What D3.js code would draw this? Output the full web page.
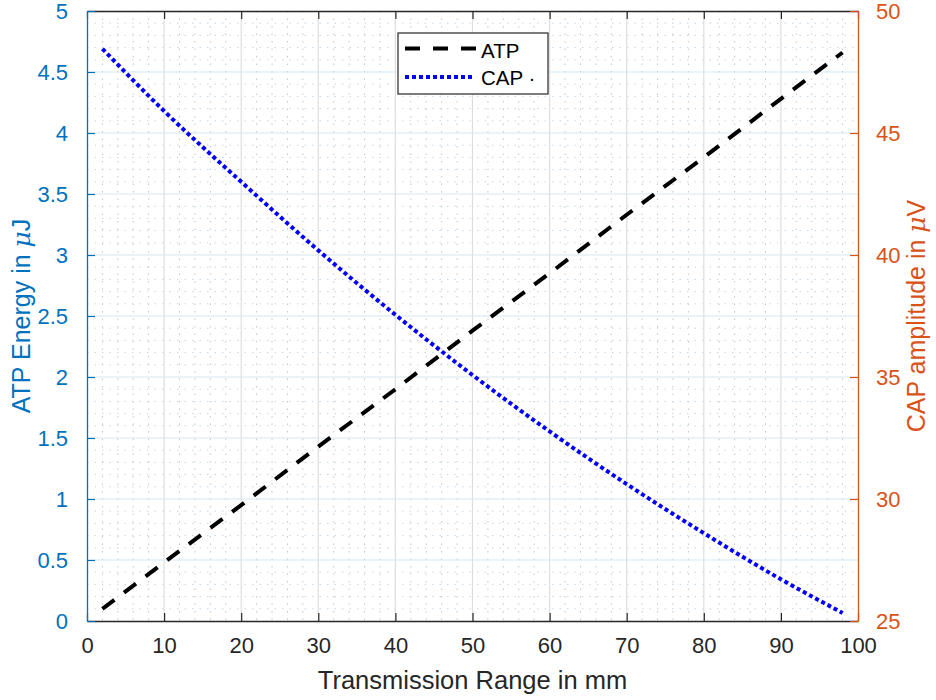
<!DOCTYPE html>
<html>
<head>
<meta charset="utf-8">
<script src="https://cdn.jsdelivr.net/npm/d3@7"></script>
<style>
  body { margin: 0; background: #fff; }
  svg { display: block; font-family: "Liberation Sans", Arial, sans-serif; }
</style>
</head>
<body>
<div id="chart"></div>
<script>
// data
var range = [2, 10, 20, 30, 40, 50, 60, 70, 80, 90, 98];
var atpEnergy = [0.1, 0.48, 0.95, 1.43, 1.9, 2.38, 2.85, 3.33, 3.8, 4.28, 4.66];
var capAmplitude = [48.45, 45.9, 43.0, 40.19, 37.55, 35.08, 32.77, 30.61, 28.6, 26.71, 25.33];

var xTicks = [0, 10, 20, 30, 40, 50, 60, 70, 80, 90, 100];
var yLeftTicks = [0, 0.5, 1, 1.5, 2, 2.5, 3, 3.5, 4, 4.5, 5];
var yRightTicks = [25, 30, 35, 40, 45, 50];

var blue = "#0072bd", orange = "#d95319", dark = "#262626";

var W = 936, H = 700;
var margin = {top: 11, right: 78, bottom: 79, left: 87},
    width = W - margin.left - margin.right,
    height = H - margin.top - margin.bottom;

var svg = d3.select("#chart").append("svg")
    .attr("width", W)
    .attr("height", H);

var g = svg.append("g")
    .attr("transform", "translate(" + margin.left + "," + margin.top + ")");

var x = d3.scaleLinear().domain([0, 100]).range([0, width]);
var yL = d3.scaleLinear().domain([0, 5]).range([height, 0]);
var yR = d3.scaleLinear().domain([25, 50]).range([height, 0]);

// minor grid (dotted)
g.append("g").selectAll("line")
    .data(x.ticks(50).filter(function(d) { return d % 10 != 0; }))
    .enter().append("line")
    .attr("x1", function(d) { return x(d); })
    .attr("x2", function(d) { return x(d); })
    .attr("y1", 0).attr("y2", height)
    .attr("stroke", "#c4c4c4")
    .attr("stroke-width", 1)
    .attr("stroke-dasharray", "1.5,6");
g.append("g").selectAll("line")
    .data(yL.ticks(50).filter(function(d) { return Math.abs(d * 2 - Math.round(d * 2)) > 1e-6; }))
    .enter().append("line")
    .attr("y1", function(d) { return yL(d); })
    .attr("y2", function(d) { return yL(d); })
    .attr("x1", 0).attr("x2", width)
    .attr("stroke", "#bcdaee")
    .attr("stroke-width", 1)
    .attr("stroke-dasharray", "1.5,6");

// major grid
g.append("g").selectAll("line")
    .data(xTicks.slice(1, -1))
    .enter().append("line")
    .attr("x1", function(d) { return x(d); })
    .attr("x2", function(d) { return x(d); })
    .attr("y1", 0).attr("y2", height)
    .attr("stroke", "#dedede")
    .attr("stroke-width", 1.2);
g.append("g").selectAll("line")
    .data(yLeftTicks.slice(1, -1))
    .enter().append("line")
    .attr("y1", function(d) { return yL(d); })
    .attr("y2", function(d) { return yL(d); })
    .attr("x1", 0).attr("x2", width)
    .attr("stroke", "#d6e8f4")
    .attr("stroke-width", 1.2);

// axes
function styleAxis(sel, color, size) {
    sel.select(".domain").attr("stroke", color).attr("stroke-width", 1.3);
    sel.selectAll(".tick line").attr("stroke", color).attr("stroke-width", 1.2);
    sel.selectAll(".tick text").attr("fill", color)
        .style("font-size", size + "px")
        .style("font-family", "'Liberation Sans', Arial, sans-serif");
}

var xAxis = g.append("g")
    .attr("transform", "translate(0," + height + ")")
    .call(d3.axisBottom(x).tickValues(xTicks).tickSizeInner(-8).tickSizeOuter(0).tickPadding(16));
styleAxis(xAxis, dark, 22);

var xTop = g.append("g")
    .call(d3.axisTop(x).tickValues(xTicks).tickSizeInner(-8).tickSizeOuter(0).tickFormat(""));
styleAxis(xTop, dark, 22);

var yAxisL = g.append("g")
    .call(d3.axisLeft(yL).tickValues(yLeftTicks).tickSizeInner(-8).tickSizeOuter(0).tickPadding(19)
        .tickFormat(function(d) { return d3.format("")(d); }));
styleAxis(yAxisL, blue, 22);

var yAxisR = g.append("g")
    .attr("transform", "translate(" + width + ",0)")
    .call(d3.axisRight(yR).tickValues(yRightTicks).tickSizeInner(-8).tickSizeOuter(0).tickPadding(18));
styleAxis(yAxisR, orange, 22);

// axis labels
g.append("text")
    .attr("x", width / 2)
    .attr("y", height + 68)
    .attr("text-anchor", "middle")
    .attr("fill", dark)
    .style("font-size", "25.5px")
    .text("Transmission Range in mm");

var yLabL = g.append("text")
    .attr("transform", "translate(" + (-57) + "," + (height / 2) + ") rotate(-90)")
    .attr("text-anchor", "middle")
    .attr("fill", blue)
    .style("font-size", "25px");
yLabL.append("tspan").text("ATP Energy in ");
yLabL.append("tspan").style("font-style", "italic").style("font-family", "'DejaVu Serif', serif").text("\u03bc");
yLabL.append("tspan").text("J");

var yLabR = g.append("text")
    .attr("transform", "translate(" + (width + 67) + "," + (height / 2) + ") rotate(-90)")
    .attr("text-anchor", "middle")
    .attr("fill", orange)
    .style("font-size", "25px");
yLabR.append("tspan").text("CAP amplitude in ");
yLabR.append("tspan").style("font-style", "italic").style("font-family", "'DejaVu Serif', serif").text("\u03bc");
yLabR.append("tspan").text("V");

// lines
var atpData = range.map(function(d, i) { return {x: d, y: atpEnergy[i]}; });
var capData = range.map(function(d, i) { return {x: d, y: capAmplitude[i]}; });

g.append("path")
    .datum(atpData)
    .attr("fill", "none")
    .attr("stroke", "#000")
    .attr("stroke-width", 4)
    .attr("stroke-dasharray", "15,12")
    .attr("d", d3.line()
        .x(function(d) { return x(d.x); })
        .y(function(d) { return yL(d.y); }));

g.append("path")
    .datum(capData)
    .attr("fill", "none")
    .attr("stroke", "#0000ff")
    .attr("stroke-width", 4)
    .attr("stroke-dasharray", "4,3")
    .attr("d", d3.line()
        .curve(d3.curveMonotoneX)
        .x(function(d) { return x(d.x); })
        .y(function(d) { return yR(d.y); }));

// legend
var legend = svg.append("g").attr("transform", "translate(398,33)");
legend.append("rect")
    .attr("width", 150).attr("height", 61)
    .attr("fill", "#fff")
    .attr("stroke", dark)
    .attr("stroke-width", 1.2);
legend.append("line")
    .attr("x1", 7).attr("x2", 78).attr("y1", 15.5).attr("y2", 15.5)
    .attr("stroke", "#000").attr("stroke-width", 4)
    .attr("stroke-dasharray", "15,13");
legend.append("text")
    .attr("x", 83).attr("y", 25)
    .attr("fill", "#000")
    .style("font-size", "20.5px")
    .text("ATP");
legend.append("line")
    .attr("x1", 7).attr("x2", 76).attr("y1", 44).attr("y2", 44)
    .attr("stroke", "#0000ff").attr("stroke-width", 4)
    .attr("stroke-dasharray", "4,3");
legend.append("text")
    .attr("x", 83).attr("y", 52)
    .attr("fill", "#000")
    .style("font-size", "20.5px")
    .text("CAP \u00b7");
</script>
</body>
</html>
